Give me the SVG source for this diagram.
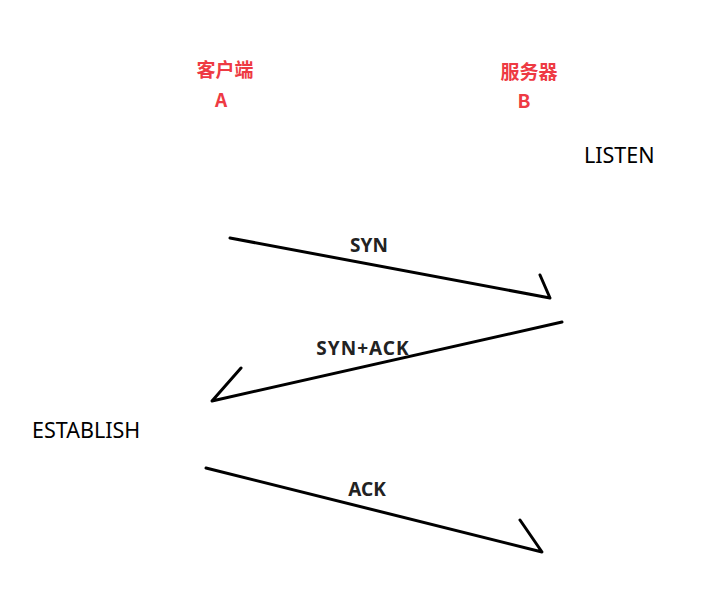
<svg xmlns="http://www.w3.org/2000/svg" width="713" height="594" viewBox="0 0 713 594">
<style>
.lbl{font-family:"Noto Sans CJK SC","Noto Sans",sans-serif;font-weight:bold;fill:#ee3a43;font-size:19px;text-anchor:middle}
.state{font-family:"Noto Sans","Open Sans",sans-serif;fill:#000;font-size:21.5px}
.msg{font-family:"Noto Sans","Open Sans",sans-serif;font-weight:bold;fill:#222;font-size:19px;text-anchor:middle}
.ln{stroke:#000;stroke-width:3;fill:none;stroke-linecap:round;stroke-linejoin:round}
</style>
<rect width="713" height="594" fill="#fff"/>
<g id="client">
<text class="lbl" x="225" y="77">客户端</text>
<text class="lbl" x="221" y="107">A</text>
</g>
<g id="server">
<text class="lbl" x="529" y="79">服务器</text>
<text class="lbl" x="524" y="108">B</text>
</g>
<g id="listen"><text class="state" x="584" y="163">LISTEN</text></g>
<g id="establish"><text class="state" x="32" y="438">ESTABLISH</text></g>
<g id="connectors">
<path class="ln" d="M230,238 L550,298 L540,275"/>
<path class="ln" d="M562,322 L212,401 L241,368"/>
<path class="ln" d="M206,468 L542,552 L520,520"/>
<text class="msg" x="369" y="252">SYN</text>
<text class="msg" x="363" y="355" letter-spacing="1">SYN+ACK</text>
<text class="msg" x="367" y="496">ACK</text>
</g>
</svg>
